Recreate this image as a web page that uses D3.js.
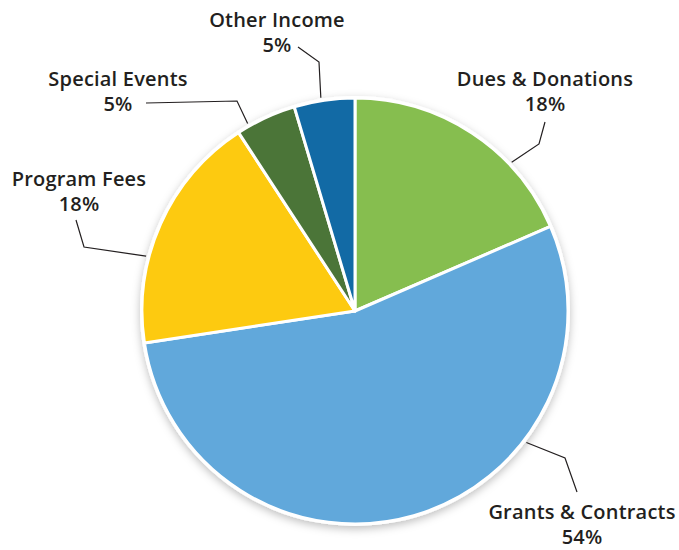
<!DOCTYPE html>
<html>
<head>
  <meta charset='utf-8'>
  <title>Revenue Pie</title>
  <script src="https://cdnjs.cloudflare.com/ajax/libs/d3/7.8.5/d3.min.js"></script>
  <style>
    body { margin: 0; background: #fff; }
    text { font-family: "Open Sans", sans-serif; font-weight: 600; fill: #231f20; letter-spacing: 0.2px; }
  </style>
</head>
<body>
  <svg width="679" height="550" id="chart"></svg>
  <script>
    // slices clockwise from 12 o'clock
    const categories = ['Dues & Donations', 'Grants & Contracts', 'Program Fees', 'Special Events', 'Other Income'];
    const values = [18.5, 54.1, 18.2, 4.6, 4.6];
    const pctLabels = ['18%', '54%', '18%', '5%', '5%'];
    const colors = ['#86be4f', '#61a8db', '#fdca10', '#4b7538', '#126aa5'];

    // label placement: text centre, leader elbow, angle where leader meets the pie
    const labelLayout = [
      { x: 545, y: 86, start: [545, 122], elbow: [539, 144], angle: 46.5 },
      { x: 582, y: 519, start: [577, 492], elbow: [565, 458], angle: 127.5 },
      { x: 79, y: 186, start: [76, 220], elbow: [84, 247], angle: 284.7 },
      { x: 118, y: 86, start: [146, 103], elbow: [237, 101], angle: 330.2 },
      { x: 277, y: 27, start: [298, 47], elbow: [319, 62], angle: 350.9 }
    ];

    const cx = 355, cy = 311, radius = 213;
    const svg = d3.select('#chart');

    const defs = svg.append('defs');
    defs.append('filter').attr('id', 'shadow')
      .attr('x', '-10%').attr('y', '-10%').attr('width', '120%').attr('height', '120%')
      .append('feDropShadow')
      .attr('dx', 0).attr('dy', 3).attr('stdDeviation', 4)
      .attr('flood-color', '#000').attr('flood-opacity', 0.25);

    const pie = d3.pie().sort(null).value(d => d)(values);
    const arc = d3.arc().innerRadius(0).outerRadius(radius);

    const g = svg.append('g').attr('transform', `translate(${cx},${cy})`);

    g.append('circle').attr('r', radius + 2).attr('fill', '#fff').attr('filter', 'url(#shadow)');

    g.selectAll('path.slice')
      .data(pie)
      .join('path')
      .attr('class', 'slice')
      .attr('d', arc)
      .attr('fill', (d, i) => colors[i])
      .attr('stroke', '#fff')
      .attr('stroke-width', 3)
      .attr('stroke-linejoin', 'round');

    // leader lines
    svg.selectAll('polyline.leader')
      .data(labelLayout)
      .join('polyline')
      .attr('class', 'leader')
      .attr('points', d => {
        const a = d.angle * Math.PI / 180;
        const r = radius + 3;
        const end = [cx + r * Math.sin(a), cy - r * Math.cos(a)];
        return [d.start, d.elbow, end].map(p => p.join(',')).join(' ');
      })
      .attr('fill', 'none')
      .attr('stroke', '#231f20')
      .attr('stroke-width', 1.2);

    const labels = svg.selectAll('text.label')
      .data(labelLayout)
      .join('text')
      .attr('class', 'label')
      .attr('text-anchor', 'middle')
      .attr('font-size', 20);

    labels.append('tspan')
      .attr('x', d => d.x).attr('y', d => d.y)
      .text((d, i) => categories[i]);
    labels.append('tspan')
      .attr('x', d => d.x).attr('y', d => d.y + 25)
      .text((d, i) => pctLabels[i]);
  </script>
</body>
</html>
